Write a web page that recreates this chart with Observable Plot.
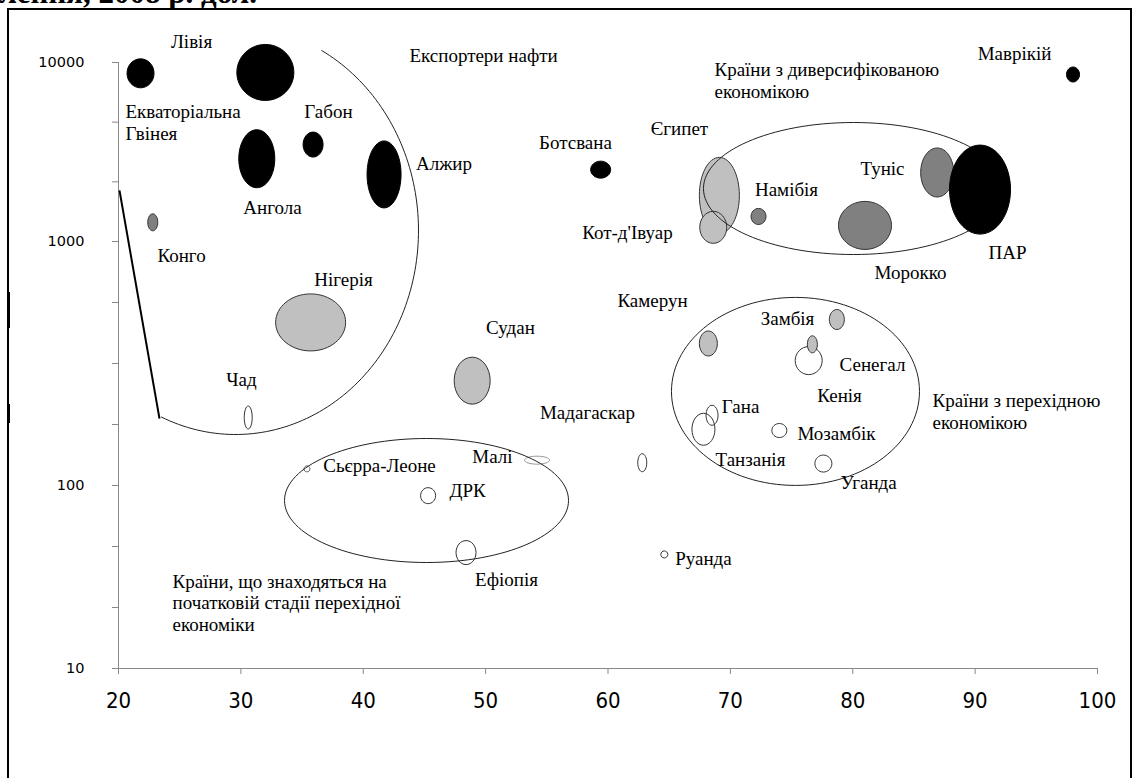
<!DOCTYPE html>
<html>
<head>
<meta charset="utf-8">
<script src="https://cdn.jsdelivr.net/npm/d3@7"></script>
<script src="https://cdn.jsdelivr.net/npm/@observablehq/plot@0.6"></script>
<style>
  html, body { margin: 0; padding: 0; background: #fff; }
  #page { position: relative; width: 1135px; height: 778px; overflow: hidden; background: #fff; }
  #title { position: absolute; right: 878px; top: -23px; font: bold 31px/31px "Liberation Serif", "Times New Roman", serif; white-space: nowrap; color: #000; }
  #frame { position: absolute; left: 7px; top: 8px; width: 1121px; height: 800px; border: 2px solid #000; border-bottom: none; }
  .mark { position: absolute; left: 7px; width: 3px; background: #000; }
  #chart { position: absolute; left: 0; top: 0; }
  #chart g[aria-label="text"] text, #chart g[aria-label="text"] tspan { font-family: "Liberation Serif", "Times New Roman", serif; font-size: 19px; }
  #chart g[aria-label="y-axis tick label"] text { font-family: "DejaVu Sans", sans-serif; font-size: 14.5px; }
  #chart g[aria-label="x-axis tick label"] text { font-family: "Liberation Sans Narrow", "DejaVu Sans Condensed", "Liberation Sans", sans-serif; font-size: 22px; }
</style>
</head>
<body>
<div id="page">
  <div id="title">ВВП на душу населення, 2008 р. дол.</div>
  <div id="frame"></div>
  <div class="mark" style="top:292px;height:36px"></div>
  <div class="mark" style="top:404px;height:19px"></div>
  <div id="chart"></div>
</div>
<script>
// ---- Bubble data (countries) ----
const countries = ["Екваторіальна Гвінея","Лівія","Габон","Ангола","Алжир","Конго","Нігерія","Чад","Судан","Ботсвана","Єгипет","Кот-д'Івуар","Намібія","Морокко","Туніс","ПАР","Маврікій","Камерун","Замбія","Сенегал","Кенія","Гана","Танзанія","Мозамбік","Уганда","Мадагаскар","Малі","Сьєрра-Леоне","ДРК","Ефіопія","Руанда"];
const xValues = [21.8, 32.0, 35.9, 31.3, 41.7, 22.8, 35.7, 30.6, 48.9, 59.4, 69.1, 68.6, 72.3, 81.0, 86.9, 90.4, 98.0, 68.2, 78.7, 76.7, 76.4, 68.5, 67.8, 74.0, 77.6, 62.8, 54.2, 35.4, 45.3, 48.4, 64.6];
const gdpValues = [8700, 8800, 3480, 2900, 2370, 1280, 466, 190, 269, 2520, 1810, 1200, 1380, 1230, 2430, 1950, 8570, 382, 479, 379, 325, 194, 170, 168, 123, 124, 127, 117, 88, 43, 42];
const sizeW = [27, 57, 20, 36, 34, 10, 70, 8, 36, 20, 40, 27, 15, 53, 33, 61, 13, 18, 15, 10, 27, 12, 23, 15, 17, 9, 25, 6, 15, 20, 7];
const sizeH = [29, 56, 25, 58, 67, 17, 57, 23, 47, 17, 76, 32, 16, 48, 49, 89, 15, 25, 20, 17, 28, 20, 32, 14, 17, 18, 8, 6, 16, 24, 7];
const shade = [3, 3, 3, 3, 3, 2, 1, 0, 1, 3, 1, 1, 2, 2, 2, 3, 3, 1, 1, 1, 0, 0, 0, 0, 0, 0, 0, 0, 0, 0, 0];

// ---- Country labels (centered) ----
const labelText = ["Лівія","Габон","Ангола","Алжир","Конго","Нігерія","Чад","Судан","Ботсвана","Єгипет","Намібія","Туніс","Кот-д'Івуар","Морокко","ПАР","Маврікій","Камерун","Замбія","Сенегал","Кенія","Гана","Мадагаскар","Мозамбік","Танзанія","Уганда","Сьєрра-Леоне","Малі","ДРК","Ефіопія","Руанда","Експортери нафти"];
const labelX = [25.97, 37.16, 32.58, 46.6, 25.15, 38.39, 30.05, 52.03, 57.34, 65.84, 74.59, 82.43, 61.59, 84.72, 92.65, 93.22, 63.64, 74.67, 81.61, 78.92, 70.83, 58.32, 78.67, 71.64, 81.29, 41.33, 50.56, 48.52, 51.71, 67.8, 49.83];
const labelY = [13090, 5320, 1550, 2730, 876, 698, 272, 444, 3570, 4280, 1930, 2560, 1120, 746, 902, 11220, 573, 483, 313, 234, 209, 199, 162, 127, 102, 120, 131, 94, 30.3, 39.9, 10940];

// ---- Left-aligned labels (groups) ----
const noteText = ["Екваторіальна\nГвінея", "Країни з диверсифікованою\nекономікою", "Країни з перехідною\nекономікою", "Країни, що знаходяться на\nпочатковій стадії перехідної\nекономіки"];
const noteX = [20.57, 68.7, 86.52, 24.41];
const noteY = [4651, 7980, 202, 22.95];

// ---- Group outlines ----
const groupX = [80.06, 75.32, 45.17];
const groupY = [1977, 243, 82.8];
const groupW = [300, 248, 284];
const groupH = [132, 188, 124];
const oilArc = {x: 29.56, y: 1152, w: 366, h: 408, from: -62, to: 114};
const oilLine = {x1: 20.08, y1: 1929, x2: 23.35, y2: 188};

// ---- Axes ----
const xTicks = [20, 30, 40, 50, 60, 70, 80, 90, 100];
const yLabels = [10, 100, 1000, 10000];
const yTicks = [10, 10 ** (4 / 3), 10 ** (5 / 3), 100, 10 ** 2.25, 10 ** 2.5, 10 ** 2.75, 1000, 10 ** (10 / 3), 10 ** (11 / 3), 10000];

// ellipse symbol with given width/height ratio
function ellipse(aspect) {
  const sx = Math.sqrt(aspect), sy = 1 / Math.sqrt(aspect), k = 0.5522847498;
  return {
    draw(ctx, size) {
      const r = Math.sqrt(size / Math.PI), rx = r * sx, ry = r * sy;
      ctx.moveTo(rx, 0);
      ctx.bezierCurveTo(rx, ry * k, rx * k, ry, 0, ry);
      ctx.bezierCurveTo(-rx * k, ry, -rx, ry * k, -rx, 0);
      ctx.bezierCurveTo(-rx, -ry * k, -rx * k, -ry, 0, -ry);
      ctx.bezierCurveTo(rx * k, -ry, rx, -ry * k, rx, 0);
      ctx.closePath();
    }
  };
}
function ellipseArc(aspect, a0, a1) {
  const sx = Math.sqrt(aspect), sy = 1 / Math.sqrt(aspect);
  return {
    draw(ctx, size) {
      const r = Math.sqrt(size / Math.PI), rx = r * sx, ry = r * sy;
      const n = 120;
      for (let j = 0; j <= n; ++j) {
        const t = (a0 + (a1 - a0) * j / n) * Math.PI / 180;
        const px = rx * Math.cos(t), py = ry * Math.sin(t);
        if (j === 0) ctx.moveTo(px, py); else ctx.lineTo(px, py);
      }
    }
  };
}

const idx = d3.range(countries.length);
const lightIdx = idx.filter(i => shade[i] < 3);
const darkIdx = idx.filter(i => shade[i] === 3);
const labIdx = d3.range(labelText.length);
const noteIdx = d3.range(noteText.length);
const grpIdx = d3.range(groupX.length);

const bubbleOpts = {
  x: i => xValues[i],
  y: i => gdpValues[i],
  r: i => Math.sqrt(sizeW[i] * sizeH[i]) / 2,
  symbol: i => ellipse(sizeW[i] / sizeH[i]),
  fill: i => shade[i],
  stroke: i => countries[i] === "Малі" ? "#999999" : countries[i] === "Сьєрра-Леоне" ? "#666666" : shade[i] === 3 ? "#000000" : "#333333",
  strokeWidth: 1
};

const chart = Plot.plot({
  width: 1135,
  height: 778,
  marginLeft: 118,
  marginRight: 38,
  marginTop: 62,
  marginBottom: 110,
  style: {background: "transparent", color: "#000", overflow: "visible"},
  x: {domain: [20, 100]},
  y: {type: "log", domain: [10, 100, 1000, 10000], range: [668, 485, 241, 62]},
  r: {type: "identity"},
  color: {type: "ordinal", domain: [0, 1, 2, 3], range: ["none", "#c0c0c0", "#808080", "#000000"]},
  marks: [
    Plot.ruleX([20], {stroke: "#888"}),
    Plot.ruleY([10], {stroke: "#888"}),
    Plot.axisY({ticks: yTicks, tickFormat: d => yLabels.includes(d) ? String(d) : "", tickSize: 6, tickPadding: 28, stroke: "#888", fontSize: 14.5, label: null}),
    Plot.axisX({ticks: xTicks, tickSize: 6, tickPadding: 18, stroke: "#888", fontSize: 22, label: null}),
    Plot.dot(lightIdx, bubbleOpts),
    Plot.dot(grpIdx, {
      x: i => groupX[i],
      y: i => groupY[i],
      r: i => Math.sqrt(groupW[i] * groupH[i]) / 2,
      symbol: i => ellipse(groupW[i] / groupH[i]),
      fill: "none",
      stroke: "#222",
      strokeWidth: 1
    }),
    Plot.dot([oilArc], {
      x: "x", y: "y",
      r: d => Math.sqrt(d.w * d.h) / 2,
      symbol: d => ellipseArc(d.w / d.h, d.from, d.to),
      fill: "none",
      stroke: "#222",
      strokeWidth: 1
    }),
    Plot.link([oilLine], {x1: "x1", y1: "y1", x2: "x2", y2: "y2", stroke: "#000", strokeWidth: 2}),
    Plot.dot(darkIdx, bubbleOpts),
    Plot.text(labIdx, {
      x: i => labelX[i], y: i => labelY[i], text: i => labelText[i],
      fontSize: 19, textAnchor: "middle", lineAnchor: "middle", fill: "#000"
    }),
    Plot.text(noteIdx, {
      x: i => noteX[i], y: i => noteY[i], text: i => noteText[i],
      fontSize: 19, textAnchor: "start", lineAnchor: "middle", lineHeight: 1.15, fill: "#000"
    })
  ]
});
document.getElementById("chart").appendChild(chart);
</script>
</body>
</html>
